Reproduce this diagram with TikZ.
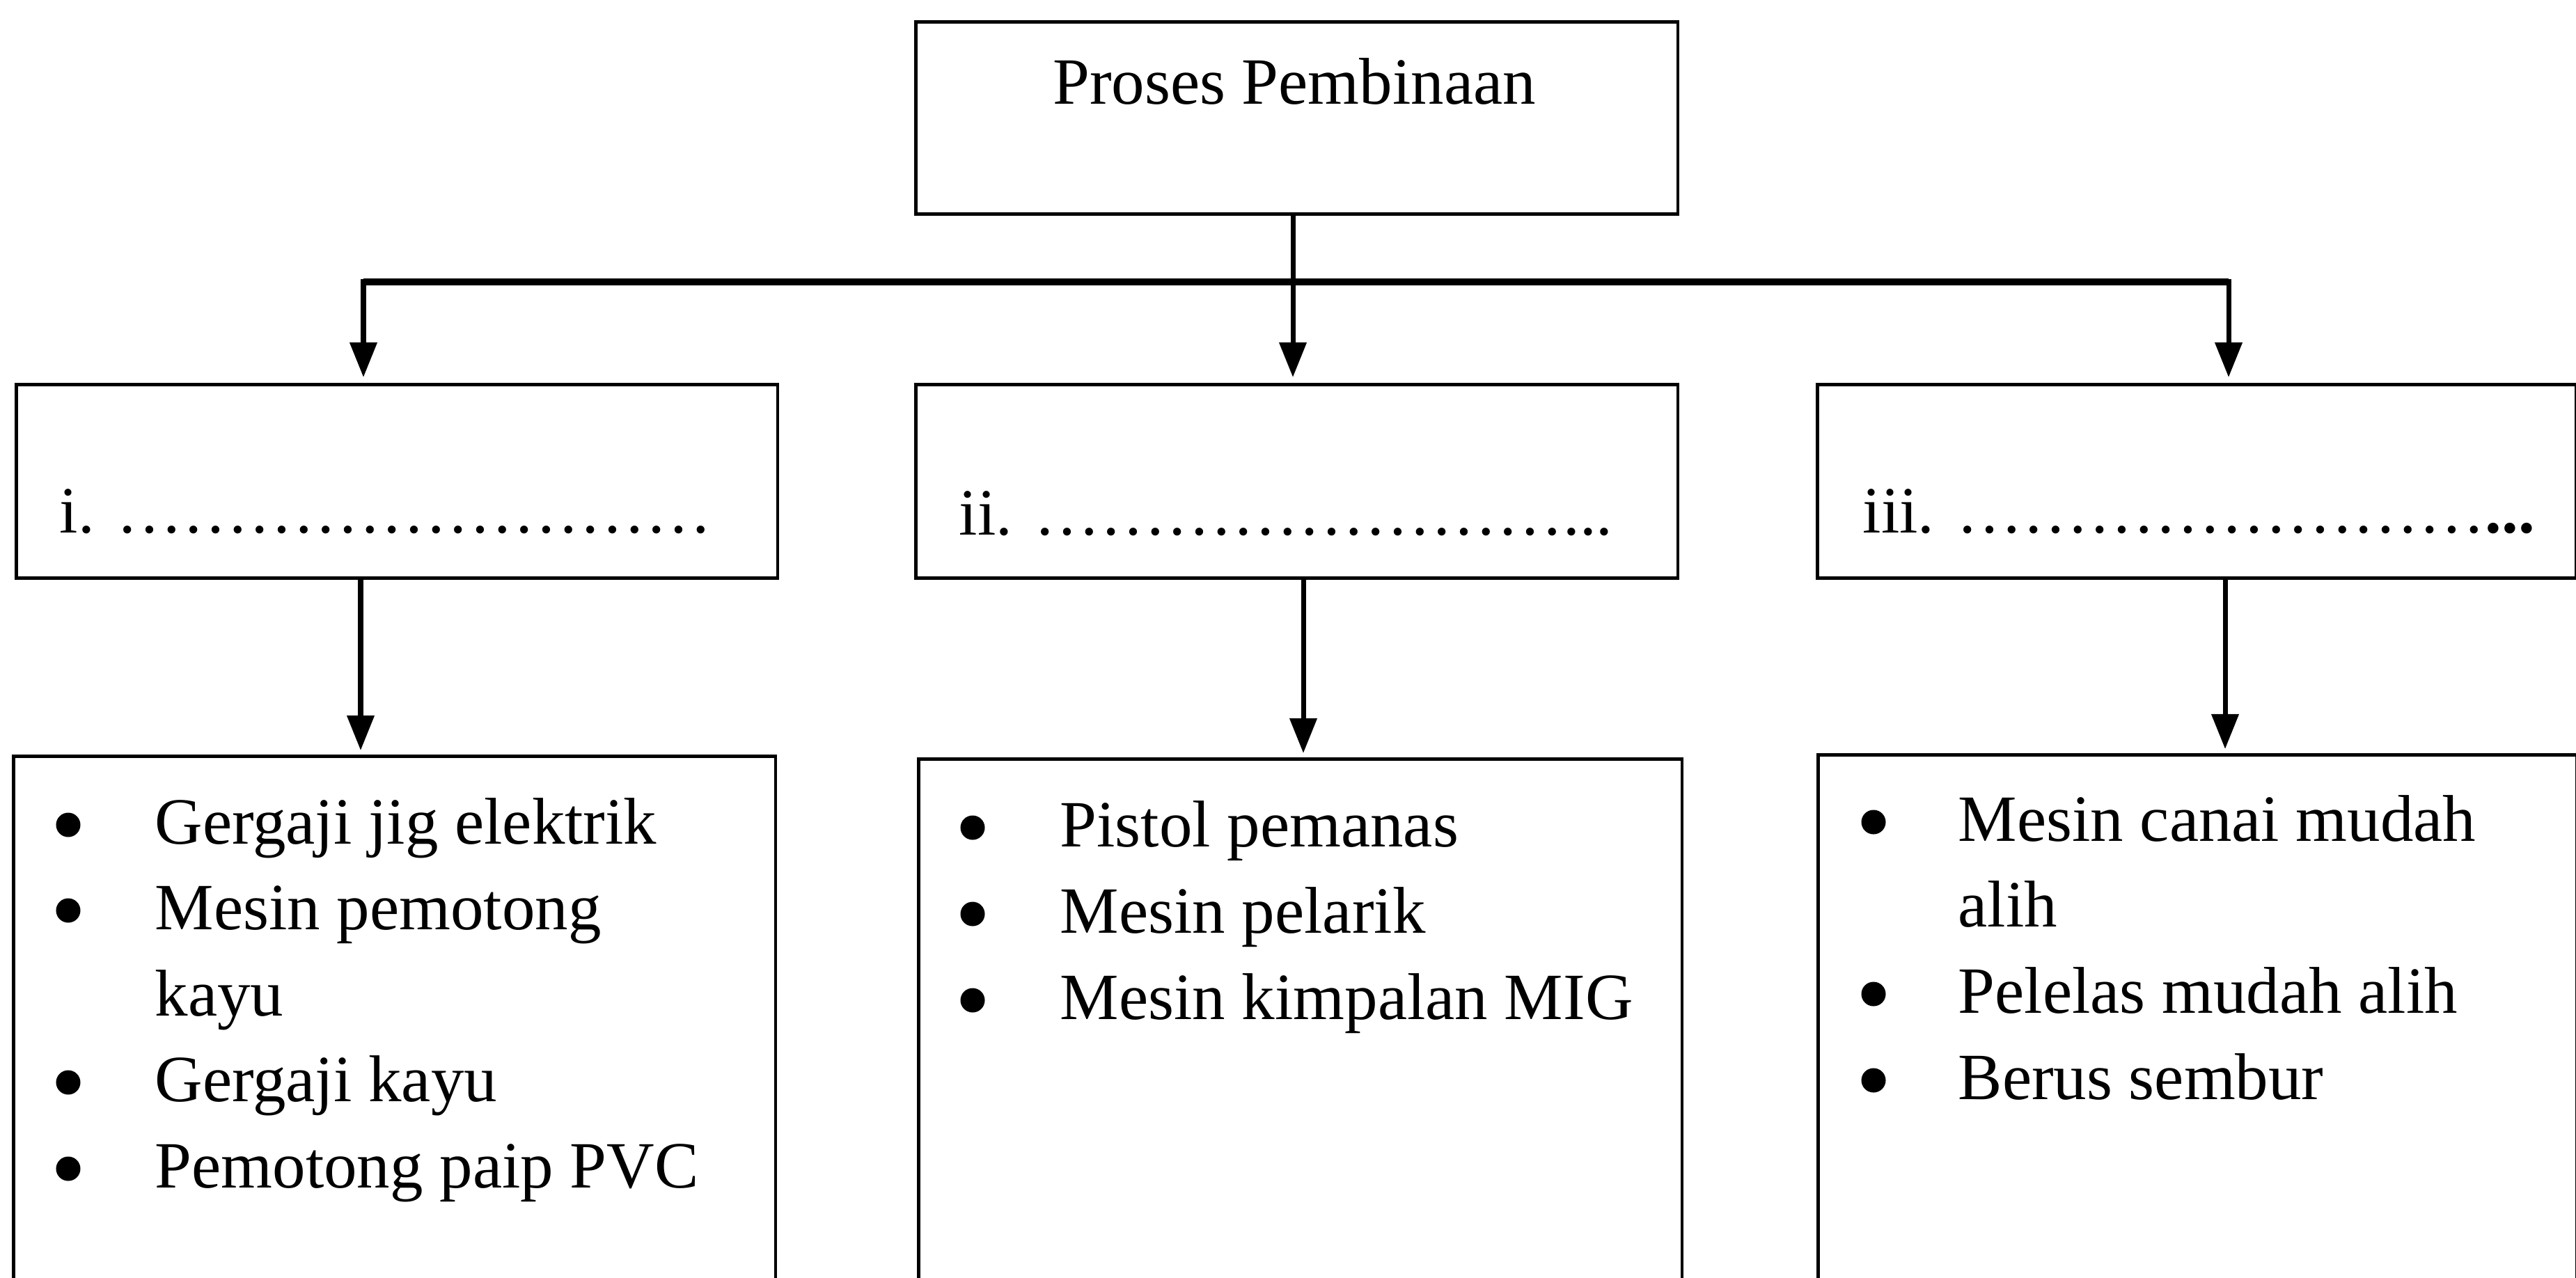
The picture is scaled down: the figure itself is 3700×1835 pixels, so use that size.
\documentclass[tikz,border=0pt]{standalone}
\usepackage{fontspec}
\setmainfont{Liberation Serif}
\usetikzlibrary{arrows.meta}
\begin{document}
\begin{tikzpicture}[x=0.01cm,y=-0.01cm,
  boxnode/.style={draw, line width=1.3pt, inner sep=0pt, anchor=north west},
  lbl/.style={font=\fontsize{27}{35}\selectfont, inner sep=0pt, anchor=base west},
  dotb/.style={circle, fill, draw=none, inner sep=0pt, minimum size=0.35cm},
  arr/.style={line width=2pt, -{Triangle[length=0.5cm,width=0.38cm]}},
  barline/.style={line width=2.8pt}]
\useasboundingbox (0,0) rectangle (3700,1835);
\clip (0,0) rectangle (3700,1835);

% top box
\node[boxnode, minimum width=10.94cm, minimum height=2.76cm] (top) at (1313,29) {};
\node[lbl, anchor=base] (ttl) at (1859,149) {Proses Pembinaan};

% middle row
\node[boxnode, minimum width=10.93cm, minimum height=2.78cm] (m1) at (21,550) {};
\node[boxnode, minimum width=10.94cm, minimum height=2.78cm] (m2) at (1313,550) {};
\node[boxnode, minimum width=10.89cm, minimum height=2.78cm] (m3) at (2608,550) {};
\node[lbl] (t1) at (85,765) {i. ………………………};
\node[lbl] (t2) at (1377,768) {ii. ……………………...};
\node[lbl] (t3) at (2675,765) {iii. ……………………\textbf{...}};

% bottom row
\node[boxnode, minimum width=10.94cm, minimum height=8.5cm] (b1) at (17,1084) {};
\node[boxnode, minimum width=10.96cm, minimum height=8.5cm] (b2) at (1317,1088) {};
\node[boxnode, minimum width=10.89cm, minimum height=8.5cm] (b3) at (2609,1082) {};

% left list
\node[dotb] (d11) at (98,1185) {};
\node[lbl] (i11) at (222,1212) {Gergaji jig elektrik};
\node[dotb] (d12) at (98,1308) {};
\node[lbl] (i12) at (222,1335) {Mesin pemotong};
\node[lbl] (i12b) at (222,1459) {kayu};
\node[dotb] (d13) at (98,1555) {};
\node[lbl] (i13) at (222,1582) {Gergaji kayu};
\node[dotb] (d14) at (98,1679) {};
\node[lbl] (i14) at (222,1706) {Pemotong paip PVC};

% middle list
\node[dotb] (d21) at (1397,1189) {};
\node[lbl] (i21) at (1522,1216) {Pistol pemanas};
\node[dotb] (d22) at (1397,1313) {};
\node[lbl] (i22) at (1522,1340) {Mesin pelarik};
\node[dotb] (d23) at (1397,1437) {};
\node[lbl] (i23) at (1522,1464) {Mesin kimpalan MIG};

% right list
\node[dotb] (d31) at (2691,1181) {};
\node[lbl] (i31) at (2812,1208) {Mesin canai mudah};
\node[lbl] (i31b) at (2812,1331) {alih};
\node[dotb] (d32) at (2691,1428) {};
\node[lbl] (i32) at (2812,1455) {Pelelas mudah alih};
\node[dotb] (d33) at (2691,1552) {};
\node[lbl] (i33) at (2812,1579) {Berus sembur};

% connectors
\coordinate (barL) at (522,405);
\coordinate (barM) at (1857,405);
\coordinate (barR) at (3201,405);
\coordinate (lowL) at (518,0);
\coordinate (lowM) at (1872,0);
\coordinate (lowR) at (3196,0);

\draw[barline] (barL) -- (barR);
\draw[arr] (top.south -| barM) -- ([yshift=0.08cm]m2.north -| barM);
\draw[arr] ([yshift=0.04cm]barL) -- ([yshift=0.08cm]m1.north -| barL);
\draw[arr] ([yshift=0.04cm]barR) -- ([yshift=0.08cm]m3.north -| barR);
\draw[arr] (m1.south -| lowL) -- ([yshift=0.06cm]b1.north -| lowL);
\draw[arr] (m2.south -| lowM) -- ([yshift=0.06cm]b2.north -| lowM);
\draw[arr] (m3.south -| lowR) -- ([yshift=0.06cm]b3.north -| lowR);
\end{tikzpicture}
\end{document}
